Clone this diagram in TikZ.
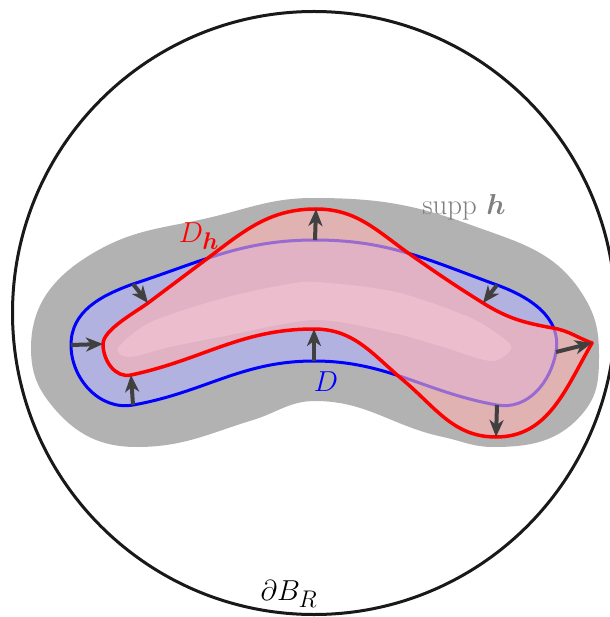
\documentclass[tikz,border=0pt]{standalone}
\usepackage{amsmath}
\usepackage{bm}
\usepackage{tikz}
\usetikzlibrary{arrows.meta}
\definecolor{suppgray}{RGB}{178,178,178}
\definecolor{arrowgray}{RGB}{64,64,64}
\definecolor{corelilac}{RGB}{207,207,247}

\begin{document}
\begin{tikzpicture}[
  x=1pt, y=-1pt,
  every node/.style={font=\Huge, scale=1.16},
  arrow/.style={-{Stealth[length=17pt, width=14pt, inset=5pt]}, line width=4pt, arrowgray},
  region/.style={line width=3pt, line join=round}
]
  \useasboundingbox (0,0) rectangle (609,617);

  % Ball
  \draw[line width=3pt, black!90] (314,313) circle[radius=301.5];

  % Support of h
  \fill[suppgray] (31,348) to[out=90, in=210] (95,252) to[out=30, in=193] (208,218)
    to[out=13, in=180] (313,198) to[out=0, in=160] (471,225) to[out=-20, in=122] (583,295)
    to[out=-58, in=90] (599,355) to[out=-90, in=50] (583,413) to[out=-130, in=0] (493,447)
    to[out=180, in=-12] (443,437) to[out=168, in=0] (315,401) to[out=180, in=17] (253,420)
    to[out=197, in=0] (137,447) to[out=180, in=-50] (53,407) to[out=130, in=-90] cycle;

  % Points on D
  \coordinate (dw) at (71,345);
  \coordinate (dnw) at (133,284);
  \coordinate (dn) at (315,240);
  \coordinate (dne) at (497,285);
  \coordinate (de) at (556,352);
  \coordinate (dse) at (497,405);
  \coordinate (ds) at (314,361);
  \coordinate (dsw) at (133,405);

  % Points on D_h
  \coordinate (hw) at (103,344);
  \coordinate (hnw) at (148,303);
  \coordinate (hn) at (316,209);
  \coordinate (hne) at (483,303);
  \coordinate (he) at (592,343);
  \coordinate (hse) at (496,437);
  \coordinate (hs) at (314,329);
  \coordinate (hsw) at (131,375);

  % D
  \draw[region, blue, fill=blue!30, fill opacity=0.6] (dw) to[out=90, in=200] (dnw)
    to[out=18, in=180] (dn) to[out=0, in=160] (dne) to[out=-20, in=80] (de)
    to[out=-100, in=-10] (dse) to[out=170, in=0] (ds) to[out=180, in=10] (dsw)
    to[out=190, in=-90] cycle;

  % Core
  \fill[corelilac] plot[smooth cycle, tension=0.5] coordinates {(118,348) (151,322) (220,299) (283,285)
    (317,282) (396,292) (471,318) (508,342) (509,352) (490,361) (443,347) (393,333) (315,320) (220,337)
    (170,347) (130,357)};

  % D_h
  \draw[region, line width=3.5pt, red, fill=red!30, fill opacity=0.6] (hw) to[out=90, in=217, looseness=0.6] (hnw)
    -- (208,258) to[out=37, in=180] (hn) to[out=0, in=145] (411,255)
    to[out=-35, in=148] (hne) to[out=-32, in=170] (553,328) to[out=-10, in=160] (he)
    to[out=-120, in=0] (hse) to[out=180, in=-40] (403,380) to[out=140, in=0] (hs)
    to[out=180, in=12] (hsw) to[out=192, in=-90] cycle;

  % Arrows
  \draw[arrow] (dw) -- (hw);
  \draw[arrow] (dnw) -- (hnw);
  \draw[arrow] (dsw) -- (hsw);
  \draw[arrow] (dn) -- (hn);
  \draw[arrow] (ds) -- (hs);
  \draw[arrow] (dne) -- (hne);
  \draw[arrow] (de) -- (he);
  \draw[arrow] (dse) -- (hse);

  % Labels
  \node[text=red] (lbh) at (199,236) {$D_{\bm h}$};
  \node[text=blue] (lbd) at (326,382) {$D$};
  \node[text=gray] (lbsupp) at (464,207) {$\operatorname{supp}\,\bm h$};
  \node (lbball) at (289,594) {$\partial B_R$};
\end{tikzpicture}
\end{document}
